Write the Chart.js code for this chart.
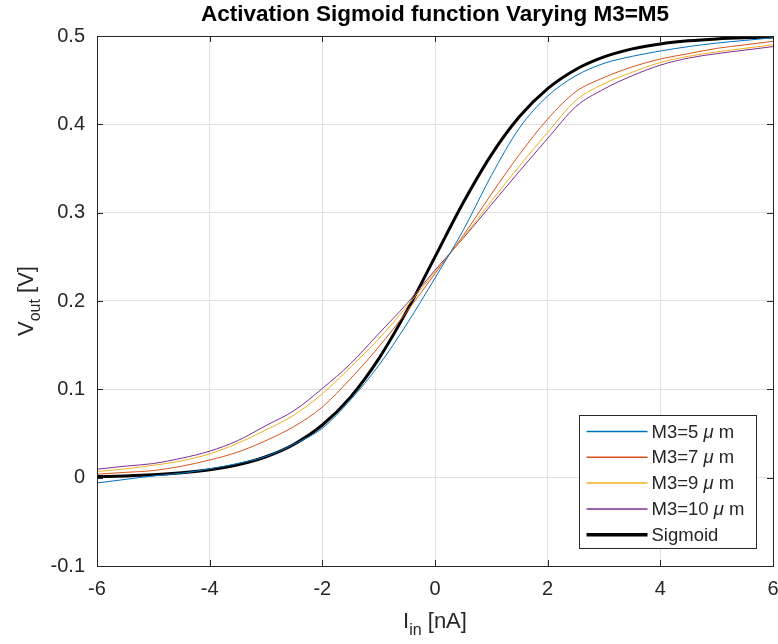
<!DOCTYPE html>
<html>
<head>
<meta charset="utf-8">
<title>Activation Sigmoid function Varying M3=M5</title>
<script src="https://cdn.jsdelivr.net/npm/chart.js@4.4.1/dist/chart.umd.min.js"></script>
<style>
  html, body { margin: 0; padding: 0; background: #fff; }
  #wrap { width: 778px; height: 644px; }
</style>
</head>
<body>
<div id="wrap"><canvas id="sigmoid-chart" width="778" height="644"></canvas></div>
<script>
// --- data ---
const iin = [-6, -5.5, -5, -4.5, -4, -3.5, -3, -2.5, -2, -1.5, -1, -0.5, 0, 0.5, 1, 1.5, 2, 2.5, 3, 3.5, 4, 4.5, 5, 5.5, 6];

const m3_5  = [-0.006, -0.002, 0.002, 0.005, 0.010, 0.016, 0.024, 0.038, 0.056, 0.088, 0.127, 0.174, 0.226, 0.280, 0.342, 0.396, 0.432, 0.455, 0.469, 0.477, 0.483, 0.488, 0.492, 0.495, 0.498];
const m3_7  = [0.004, 0.006, 0.008, 0.013, 0.020, 0.029, 0.042, 0.058, 0.080, 0.112, 0.148, 0.188, 0.231, 0.274, 0.321, 0.366, 0.406, 0.437, 0.453, 0.465, 0.474, 0.480, 0.486, 0.490, 0.494];
const m3_9  = [0.007, 0.010, 0.014, 0.019, 0.027, 0.039, 0.054, 0.071, 0.095, 0.125, 0.157, 0.194, 0.233, 0.272, 0.313, 0.353, 0.391, 0.427, 0.446, 0.459, 0.470, 0.477, 0.482, 0.486, 0.490];
const m3_10 = [0.0096, 0.013, 0.016, 0.022, 0.030, 0.042, 0.059, 0.076, 0.101, 0.129, 0.163, 0.197, 0.235, 0.271, 0.309, 0.347, 0.384, 0.420, 0.440, 0.455, 0.467, 0.475, 0.480, 0.484, 0.488];
const sigmoid = [0.0012, 0.002, 0.0033, 0.0055, 0.009, 0.0146, 0.0237, 0.0379, 0.0596, 0.0912, 0.1345, 0.1888, 0.25, 0.3112, 0.3655, 0.4088, 0.4404, 0.4621, 0.4763, 0.4854, 0.491, 0.4945, 0.4967, 0.498, 0.4988];

const seriesLabels = ['M3=5 μ m', 'M3=7 μ m', 'M3=9 μ m', 'M3=10 μ m', 'Sigmoid'];
const xTicks = [-6, -4, -2, 0, 2, 4, 6];
const yTicks = [-0.1, 0, 0.1, 0.2, 0.3, 0.4, 0.5];

const titleText = 'Activation Sigmoid function Varying M3=M5';

// --- styles ---
const FONT = '"Liberation Sans", Arial, Helvetica, sans-serif';
const TEXT_COLOR = '#262626';
const colors = ['#0072BD', '#D95319', '#EDB120', '#7E2F8E', '#000000'];
const widths = [1, 1, 1, 1, 3];

function toPoints(ys) {
    return iin.map((x, i) => ({ x: x, y: ys[i] }));
}

const allSeries = [m3_5, m3_7, m3_9, m3_10, sigmoid];
const datasets = allSeries.map((ys, i) => ({
    label: seriesLabels[i],
    data: toPoints(ys),
    borderColor: colors[i],
    backgroundColor: colors[i],
    borderWidth: widths[i],
    pointRadius: 0,
    fill: false,
    cubicInterpolationMode: 'monotone'
}));

// draws text made of parts; sub parts are smaller and lowered
function drawParts(ctx, parts, x, y, align) {
    const measure = parts.map(p => {
        ctx.font = p.font;
        return ctx.measureText(p.t).width;
    });
    const total = measure.reduce((a, b) => a + b, 0);
    let cx = align === 'center' ? x - total / 2 : x;
    parts.forEach((p, i) => {
        ctx.font = p.font;
        ctx.fillText(p.t, cx, y + (p.dy || 0));
        cx += measure[i];
    });
}

function labelParts(label, size) {
    const normal = size + 'px ' + FONT;
    const italic = 'italic ' + size + 'px ' + FONT;
    if (label.indexOf('μ') < 0) return [{ t: label, font: normal }];
    const bits = label.split('μ');
    return [
        { t: bits[0], font: normal },
        { t: 'μ', font: italic },
        { t: bits[1], font: normal }
    ];
}

const decorPlugin = {
    id: 'matlabDecor',
    afterDraw(chart) {
        const ctx = chart.ctx;
        const area = chart.chartArea;
        const xs = chart.scales.x;
        const ys = chart.scales.y;
        ctx.save();

        // axes box
        ctx.strokeStyle = TEXT_COLOR;
        ctx.lineWidth = 1;
        ctx.strokeRect(Math.round(area.left) + 0.5, Math.round(area.top) + 0.5,
            Math.round(area.right - area.left), Math.round(area.bottom - area.top));

        // inward tick marks, all four sides
        const tl = 6;
        ctx.beginPath();
        xTicks.forEach(v => {
            const px = Math.round(xs.getPixelForValue(v)) + 0.5;
            ctx.moveTo(px, area.bottom); ctx.lineTo(px, area.bottom - tl);
            ctx.moveTo(px, area.top); ctx.lineTo(px, area.top + tl);
        });
        yTicks.forEach(v => {
            const py = Math.round(ys.getPixelForValue(v)) + 0.5;
            ctx.moveTo(area.left, py); ctx.lineTo(area.left + tl, py);
            ctx.moveTo(area.right, py); ctx.lineTo(area.right - tl, py);
        });
        ctx.stroke();

        // title
        ctx.fillStyle = '#000';
        ctx.textBaseline = 'alphabetic';
        ctx.textAlign = 'left';
        const midX = (area.left + area.right) / 2;
        drawParts(ctx, [{ t: titleText, font: 'bold 22.5px ' + FONT }], midX, 21, 'center');

        // x axis title  I_in [nA]
        ctx.fillStyle = TEXT_COLOR;
        drawParts(ctx, [
            { t: 'I', font: '22px ' + FONT },
            { t: 'in', font: '16px ' + FONT, dy: 7 },
            { t: ' [nA]', font: '22px ' + FONT }
        ], midX, 628, 'center');

        // y axis title  V_out [V]
        const midY = (area.top + area.bottom) / 2;
        ctx.translate(33, midY);
        ctx.rotate(-Math.PI / 2);
        drawParts(ctx, [
            { t: 'V', font: '22px ' + FONT },
            { t: 'out', font: '16px ' + FONT, dy: 7 },
            { t: ' [V]', font: '22px ' + FONT }
        ], 0, 0, 'center');
        ctx.setTransform(1, 0, 0, 1, 0, 0);

        // legend box in lower right
        const lw = 177, lh = 133;
        const lx = Math.round(area.right - 17 - lw) + 0.5;
        const ly = Math.round(area.bottom - 18 - lh) + 0.5;
        ctx.fillStyle = '#fff';
        ctx.fillRect(lx, ly, lw, lh);
        ctx.strokeStyle = TEXT_COLOR;
        ctx.lineWidth = 1;
        ctx.strokeRect(lx, ly, lw, lh);
        ctx.textBaseline = 'middle';
        chart.data.datasets.forEach((ds, i) => {
            const ry = ly + 16 + i * 25.8;
            ctx.strokeStyle = ds.borderColor;
            ctx.lineWidth = ds.borderWidth === 1 ? 1.5 : 3.5;
            ctx.beginPath();
            ctx.moveTo(lx + 7, ry);
            ctx.lineTo(lx + 68, ry);
            ctx.stroke();
            ctx.fillStyle = TEXT_COLOR;
            drawParts(ctx, labelParts(ds.label, 18.5), lx + 72, ry + 1, 'left');
        });

        ctx.restore();
    }
};

const ctx = document.getElementById('sigmoid-chart').getContext('2d');
const sigChart = new Chart(ctx, {
    type: 'line',
    data: { datasets: datasets },
    options: {
        responsive: false,
        animation: false,
        layout: { padding: { top: 36, right: 5, left: 0, bottom: 0 } },
        scales: {
            x: {
                type: 'linear',
                min: -6,
                max: 6,
                afterBuildTicks: (scale) => { scale.ticks = xTicks.map(v => ({ value: v })); },
                afterFit: (scale) => {
                    scale.height = 78;
                    scale.paddingLeft = 0;
                    scale.paddingRight = 0;
                },
                ticks: {
                    color: TEXT_COLOR,
                    font: { family: FONT, size: 20 },
                    padding: 11,
                    maxRotation: 0,
                    callback: (v) => String(v)
                },
                grid: { color: '#e0e0e0', drawTicks: false },
                border: { display: false }
            },
            y: {
                type: 'linear',
                min: -0.1,
                max: 0.5,
                afterBuildTicks: (scale) => { scale.ticks = yTicks.map(v => ({ value: v })); },
                afterFit: (scale) => {
                    scale.width = 97;
                    scale.paddingTop = 0;
                    scale.paddingBottom = 0;
                },
                ticks: {
                    color: TEXT_COLOR,
                    font: { family: FONT, size: 20 },
                    padding: 12,
                    callback: (v) => String(Number(v.toFixed(1)))
                },
                grid: { color: '#e0e0e0', drawTicks: false },
                border: { display: false }
            }
        },
        plugins: {
            legend: { display: false },
            title: { display: false },
            tooltip: { enabled: false }
        }
    },
    plugins: [decorPlugin]
});
</script>
</body>
</html>
